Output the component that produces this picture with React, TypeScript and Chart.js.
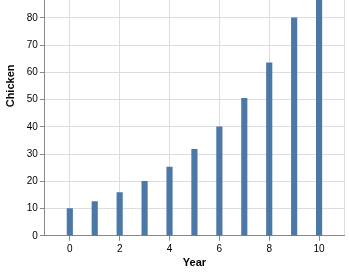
import React, { useEffect, useRef } from "react";
import { Chart, registerables } from "chart.js";

Chart.register(...registerables);

const years: number[] = [0, 1, 2, 3, 4, 5, 6, 7, 8, 9, 10];
const chicken: number[] = [10, 12.6, 15.9, 20, 25.2, 31.7, 40, 50.4, 63.5, 80, 100.8];
const xTickValues: number[] = [0, 2, 4, 6, 8, 10, 11];

const W = 349;
const H = 344;

export default function App() {
  const ref = useRef<HTMLCanvasElement | null>(null);
  useEffect(() => {
    if (!ref.current) return;
    Chart.defaults.font.family = "'Liberation Sans', Arial, Helvetica, sans-serif";
    const chart = new Chart(ref.current, {
      type: "bar",
      data: {
        datasets: [
          {
            data: years.map((y, i) => ({ x: y, y: chicken[i] })),
            backgroundColor: "#4c78a8",
            barThickness: 5.5,
          },
        ],
      },
      options: {
        animation: false,
        responsive: false,
        devicePixelRatio: 1,
        layout: { padding: { left: 4, right: 5, top: 2, bottom: 2 } },
        plugins: { legend: { display: false }, tooltip: { enabled: false } },
        scales: {
          x: {
            type: "linear",
            min: -1,
            max: 11,
            offset: false,
            afterBuildTicks: (scale: any) => {
              scale.ticks = xTickValues.map((v) => ({ value: v }));
            },
            ticks: {
              color: "#000",
              font: { size: 10 },
              padding: 2,
              maxRotation: 0,
              callback: (v: any) => (v === 11 ? "" : String(v)),
            },
            grid: {
              offset: false,
              color: "#ddd",
              tickLength: 5,
              tickColor: (ctx: any) => (ctx.tick && ctx.tick.value === 11 ? "rgba(0,0,0,0)" : "#888"),
            },
            border: { color: "#888" },
            title: {
              display: true,
              text: "Year",
              color: "#000",
              font: { size: 11, weight: "bold" },
              padding: { top: 0, bottom: 0 },
            },
          },
          y: {
            type: "linear",
            min: 0,
            max: 110,
            ticks: { stepSize: 10, color: "#000", font: { size: 10 }, padding: 2 },
            grid: { color: "#ddd", tickLength: 5, tickColor: "#888" },
            border: { color: "#888" },
            title: {
              display: true,
              text: "Chicken",
              color: "#000",
              font: { size: 11, weight: "bold" },
              padding: { top: 0, bottom: 2 },
            },
          },
        },
      },
    });
    return () => chart.destroy();
  }, []);
  return (
    <div style={{ position: "fixed", left: 0, top: -(H - 272), width: W, height: H }}>
      <canvas ref={ref} width={W} height={H} style={{ width: W, height: H, display: "block" }} />
    </div>
  );
}
